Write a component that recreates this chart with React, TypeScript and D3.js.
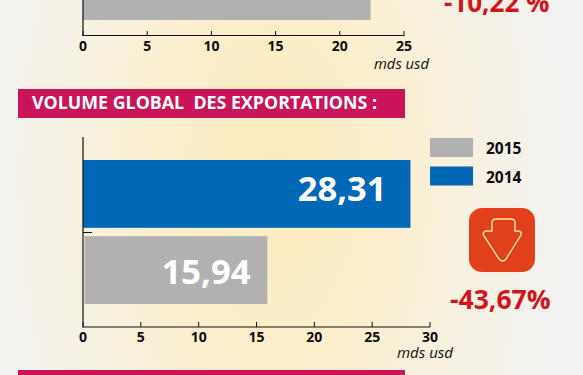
import React from "react";
import * as d3 from "d3";

const topTicks = [0, 5, 10, 15, 20, 25];
const bottomTicks = [0, 5, 10, 15, 20, 25, 30];
const topGrey = 22.4;
const exports2014 = 28.31;
const exports2015 = 15.94;
const exportsLabels = ["28,31", "15,94"];
const legendYears = ["2015", "2014"];
const changeTop = "-10,22 %";
const changeBottom = "-43,67%";
const titleText = "VOLUME GLOBAL\u00A0 DES EXPORTATIONS :";
const unitText = "mds usd";

const FONT = "'Open Sans', sans-serif";
const GREY = "#b1b1b1";
const BLUE = "#0068b5";
const PINK = "#c9145a";
const RED = "#d2151b";

export default function App() {
  const xTop = d3.scaleLinear().domain([0, 25]).range([75, 396]);
  const xBot = d3.scaleLinear().domain([0, 30]).range([75, 422]);
  const yBand = d3.scaleBand<number>().domain([0, 1]).range([152, 296]).paddingInner(0.11).paddingOuter(0);
  const bh = yBand.bandwidth();
  return (
    <div style={{ position: "absolute", left: 0, top: 0, width: 583, height: 375, overflow: "hidden" }}>
      <svg width={583} height={375} style={{ display: "block", fontFamily: FONT }}>
        <defs>
          <radialGradient id="bg" gradientUnits="userSpaceOnUse" cx={0} cy={0} r={1} gradientTransform="translate(265 170) scale(300 520)">
            <stop offset="0" stopColor="#fcebbd" />
            <stop offset="0.35" stopColor="#fbeecb" />
            <stop offset="0.7" stopColor="#f6f1e3" />
            <stop offset="1" stopColor="#f2f2f1" />
          </radialGradient>
        </defs>
        <g transform="translate(8,8)">
          <rect x={-8} y={-8} width={583} height={375} fill="url(#bg)" />

          {/* top chart */}
          <rect x={xTop(0)} y={-8} width={xTop(topGrey) - xTop(0)} height={20} fill={GREY} />
          <line x1={xTop(0)} x2={xTop(0)} y1={-8} y2={28} stroke="#111" strokeWidth={1.2} />
          <line x1={xTop(0)} x2={xTop(25)} y1={27.5} y2={27.5} stroke="#111" strokeWidth={1.2} />
          {topTicks.map((t) => (
            <g key={t}>
              <line x1={xTop(t)} x2={xTop(t)} y1={23} y2={28} stroke="#111" strokeWidth={1} />
              <text x={xTop(t)} y={43} textAnchor="middle" fontSize={14} fontWeight={700} fill="#0c0c0c">{t}</text>
            </g>
          ))}
          <text x={366} y={61} fontSize={14} fontStyle="italic" fill="#111" textLength={55} lengthAdjust="spacingAndGlyphs">{unitText}</text>
          <text x={436} y={4} fontSize={26} fontWeight={700} fill={RED}>{changeTop}</text>

          {/* title */}
          <rect x={10} y={81} width={387} height={29} fill={PINK} />
          <text x={24} y={101} fontSize={17.5} fontWeight={700} fill="#fff" textLength={345} lengthAdjust="spacingAndGlyphs">{titleText}</text>

          {/* bottom chart */}
          <rect x={xBot(0)} y={yBand(0)} width={xBot(exports2014) - xBot(0)} height={bh} fill={BLUE} />
          <rect x={xBot(0) + 1.5} y={yBand(1)} width={xBot(exports2015) - xBot(0) - 1.5} height={bh} fill={GREY} />
          <text x={xBot(exports2014) - 24} y={yBand(0)! + 41} textAnchor="end" fontSize={34.5} fontWeight={700} fill="#fff">{exportsLabels[0]}</text>
          <text x={xBot(exports2015) - 17} y={yBand(1)! + 48} textAnchor="end" fontSize={34.5} fontWeight={700} fill="#fff">{exportsLabels[1]}</text>
          <line x1={xBot(0)} x2={xBot(0)} y1={129} y2={319.5} stroke="#111" strokeWidth={1.2} />
          <line x1={xBot(0)} x2={xBot(0) + 9} y1={224.5} y2={224.5} stroke="#111" strokeWidth={1} />
          <line x1={xBot(0)} x2={xBot(30)} y1={319} y2={319} stroke="#111" strokeWidth={1.2} />
          {bottomTicks.map((t) => (
            <g key={t}>
              <line x1={xBot(t)} x2={xBot(t)} y1={314} y2={319} stroke="#111" strokeWidth={1} />
              <text x={xBot(t)} y={334} textAnchor="middle" fontSize={14} fontWeight={700} fill="#0c0c0c">{t}</text>
            </g>
          ))}
          <text x={389} y={350} fontSize={14} fontStyle="italic" fill="#111" textLength={56} lengthAdjust="spacingAndGlyphs">{unitText}</text>

          {/* legend */}
          {legendYears.map((yr, i) => (
            <g key={yr}>
              <rect x={422} y={130 + i * 28.5} width={43} height={19} fill={i === 0 ? GREY : BLUE} />
              <text x={478} y={146 + i * 28.5} fontSize={15.5} fontWeight={700} fill="#0c0c0c">{yr}</text>
            </g>
          ))}

          {/* arrow */}
          <rect x={461} y={200} width={66} height={64} rx={13} fill="#e2401a" />
          <path d="M484 223 L484 215 Q484 211 488 211 L503 211 Q507 211 507 215 L507 223 L511 223 Q514 224 513 227 L498 251 Q495 255 491 251 L476 228 Q474 224 478 223 Z" fill="none" stroke="#fbe6b5" strokeWidth={1.4} />
          <text x={442} y={301} fontSize={26.5} fontWeight={700} fill={RED}>{changeBottom}</text>

          {/* next band */}
          <rect x={10} y={362} width={387} height={6} fill={PINK} />
        </g>
      </svg>
    </div>
  );
}
